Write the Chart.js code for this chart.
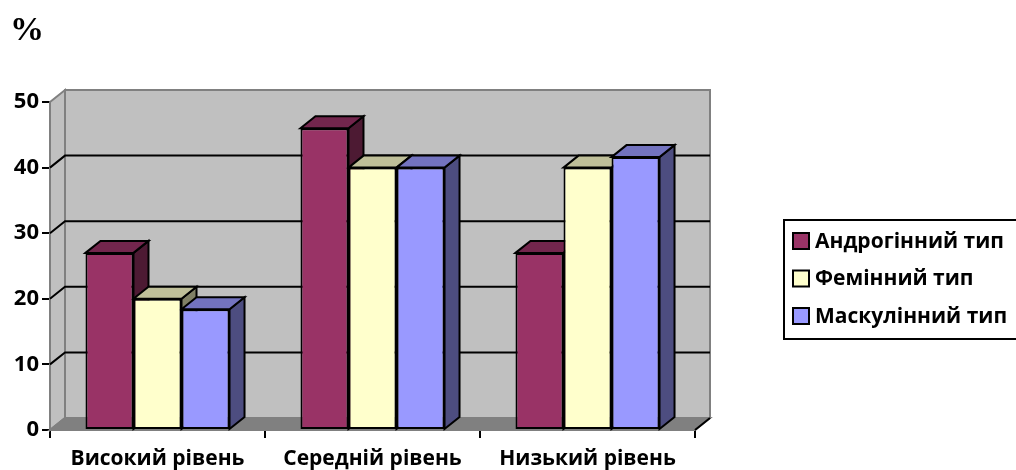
<!DOCTYPE html>
<html>
<head>
<meta charset="utf-8">
<script src="https://cdn.jsdelivr.net/npm/chart.js@4"></script>
<style>
  html, body { margin: 0; padding: 0; background: #fff; }
  #wrap { width: 1016px; height: 470px; }
</style>
</head>
<body>
<div id="wrap"><canvas id="chart"></canvas></div>
<script>
const categories = ['Високий рівень', 'Середній рівень', 'Низький рівень'];
const androgynous = [27, 46, 27];
const feminine    = [20, 40, 40];
const masculine   = [18.4, 40, 41.6];
const seriesNames = ['Андрогінний тип', 'Фемінний тип', 'Маскулінний тип'];
const yTicks      = [0, 10, 20, 30, 40, 50];
const unitLabel   = '%';

const COLORS = [
    { front: '#993366', top: '#73264d', side: '#4d1a33' },
    { front: '#ffffcc', top: '#bfbf99', side: '#808066' },
    { front: '#9999ff', top: '#7373bf', side: '#4d4d80' },
];

const DEPTH = { dx: 15, dy: -12 };
const FONT = '"Open Sans", sans-serif';

function poly(ctx, pts, fill, stroke, width) {
    ctx.beginPath();
    ctx.moveTo(pts[0][0], pts[0][1]);
    for (let i = 1; i < pts.length; i++) ctx.lineTo(pts[i][0], pts[i][1]);
    ctx.closePath();
    if (fill) { ctx.fillStyle = fill; ctx.fill(); }
    if (stroke) { ctx.strokeStyle = stroke; ctx.lineWidth = width; ctx.stroke(); }
}

// walls, floor, gridlines on the back wall, then side/top faces of the bars
const box3d = {
    id: 'box3d',
    beforeDatasetsDraw(chart) {
        const { ctx, chartArea: a, scales: { y } } = chart;
        const { dx, dy } = DEPTH;
        ctx.save();
        ctx.lineJoin = 'miter';

        poly(ctx, [[a.left, a.top], [a.left + dx, a.top + dy],
                   [a.left + dx, a.bottom + dy], [a.left, a.bottom]], '#c0c0c0', '#808080', 2);
        poly(ctx, [[a.left + dx, a.top + dy], [a.right + dx, a.top + dy],
                   [a.right + dx, a.bottom + dy], [a.left + dx, a.bottom + dy]], '#c0c0c0', '#808080', 2);
        poly(ctx, [[a.left, a.bottom], [a.left + dx, a.bottom + dy],
                   [a.right + dx, a.bottom + dy], [a.right, a.bottom]], '#808080', '#808080', 2);

        ctx.strokeStyle = '#000';
        ctx.lineWidth = 2;
        yTicks.filter(v => v > 0 && v < y.max).forEach(v => {
            const py = y.getPixelForValue(v);
            ctx.beginPath();
            ctx.moveTo(a.left, py);
            ctx.lineTo(a.left + dx, py + dy);
            ctx.lineTo(a.right + dx, py + dy);
            ctx.stroke();
        });

        // floor front-right edge
        ctx.beginPath();
        ctx.moveTo(a.right, a.bottom);
        ctx.lineTo(a.right + dx, a.bottom + dy);
        ctx.stroke();

        const bars = [];
        chart.data.datasets.forEach((ds, i) => {
            chart.getDatasetMeta(i).data.forEach(el => bars.push({ el, c: COLORS[i] }));
        });
        bars.sort((p, q) => p.el.x - q.el.x);
        bars.forEach(({ el, c }) => {
            const l = el.x - el.width / 2, r = el.x + el.width / 2;
            const t = el.y, b = el.base;
            poly(ctx, [[r, t], [r + dx, t + dy], [r + dx, b + dy], [r, b]], c.side, '#000', 2);
            poly(ctx, [[l, t], [l + dx, t + dy], [r + dx, t + dy], [r, t]], c.top, '#000', 2);
        });
        ctx.restore();
    },
    afterDraw(chart) {
        const { ctx } = chart;
        ctx.save();
        ctx.fillStyle = '#000';
        ctx.font = 'bold 34px "Liberation Serif", serif';
        ctx.textBaseline = 'alphabetic';
        ctx.textAlign = 'left';
        ctx.fillText(unitLabel, 10, 40);

        // legend box
        ctx.strokeStyle = '#000';
        ctx.lineWidth = 2;
        ctx.strokeRect(784, 220, 250, 119);
        ctx.font = 'bold 21px ' + FONT;
        ctx.textBaseline = 'middle';
        chart.data.datasets.forEach((ds, i) => {
            const cy = 241 + i * 37.5;
            ctx.fillStyle = ds.backgroundColor;
            ctx.fillRect(793, cy - 8, 16, 16);
            ctx.strokeRect(793, cy - 8, 16, 16);
            ctx.fillStyle = '#000';
            ctx.fillText(ds.label, 815, cy + 1);
        });
        ctx.restore();
    },
};

const series = [androgynous, feminine, masculine];

new Chart(document.getElementById('chart'), {
    type: 'bar',
    data: {
        labels: categories,
        datasets: series.map((values, i) => ({
            label:           seriesNames[i],
            data:            values,
            backgroundColor: COLORS[i].front,
            borderColor:     '#000',
            borderWidth:     2,
            borderSkipped:   false,
            categoryPercentage: 0.67,
            barPercentage:   1,
        })),
    },
    options: {
        responsive: true,
        maintainAspectRatio: false,
        animation: false,
        layout: { padding: { left: 0, top: 102, right: 321, bottom: 0 } },
        scales: {
            x: {
                offset: true,
                grid: { offset: true, drawOnChartArea: false, color: '#000', lineWidth: 2, tickLength: 8 },
                border: { display: true, color: '#000', width: 2 },
                ticks: { color: '#000', font: { family: FONT, size: 21, weight: 'bold' }, padding: 8, maxRotation: 0 },
                afterFit(scale) { scale.height = 40; },
            },
            y: {
                min: 0,
                max: 50,
                afterBuildTicks(scale) { scale.ticks = yTicks.map(v => ({ value: v })); },
                grid: { drawOnChartArea: false, color: '#000', lineWidth: 2, tickLength: 8 },
                border: { display: true, color: '#000', width: 2 },
                ticks: { color: '#000', font: { family: FONT, size: 22, weight: 'bold' }, padding: 3 },
                afterFit(scale) { scale.width = 50; },
            },
        },
        plugins: {
            legend:  { display: false },
            tooltip: { enabled: false },
        },
    },
    plugins: [box3d],
});
</script>
</body>
</html>
